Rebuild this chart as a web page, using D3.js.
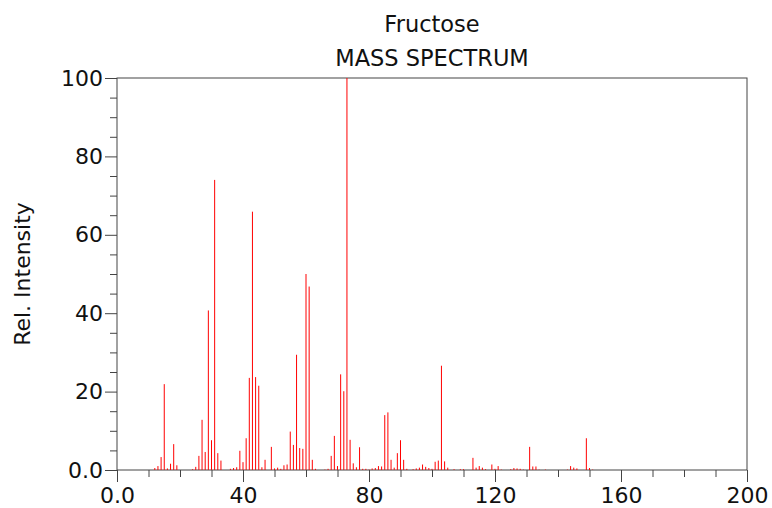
<!DOCTYPE html>
<html>
<head>
<meta charset="utf-8">
<script src="https://cdn.jsdelivr.net/npm/d3@7"></script>
<style>
  html, body { margin: 0; padding: 0; background: #fff; }
  svg { display: block; }
  text { font-family: "DejaVu Sans", sans-serif; fill: #111; }
</style>
</head>
<body>
<svg id="chart" width="772" height="508"></svg>
<script>
// Fructose electron-ionization mass spectrum (m/z vs relative intensity)
const title = "Fructose";
const subtitle = "MASS SPECTRUM";
const yTitle = "Rel. Intensity";

const mz = [
  12, 13, 14, 15, 16, 17, 18, 19, 24, 25, 26, 27, 28, 29, 30, 31, 32, 33,
  36, 37, 38, 39, 40, 41, 42, 43, 44, 45, 46, 47, 49, 50, 51, 52, 53, 54,
  55, 56, 57, 58, 59, 60, 61, 62, 63, 66, 67, 68, 69, 70, 71, 72, 73, 74,
  75, 76, 77, 78, 79, 80, 81, 82, 83, 84, 85, 86, 87, 88, 89, 90, 91, 92,
  94, 95, 96, 97, 98, 99, 100, 101, 102, 103, 104, 105, 107, 109, 110, 113,
  114, 115, 116, 117, 119, 120, 121, 122, 125, 126, 127, 128, 129, 131, 132,
  133, 134, 136, 143, 144, 145, 146, 149, 150, 151
];
const intensity = [
  0.5, 1.0, 3.3, 21.9, 0.4, 1.6, 6.6, 1.2, 0.2, 0.8, 3.6, 12.8, 4.6, 40.7, 7.6, 74.0, 4.3, 2.4,
  0.3, 0.5, 0.7, 4.9, 2.0, 8.1, 23.5, 65.9, 23.7, 21.5, 0.7, 2.6, 5.9, 0.4, 0.6, 0.3, 1.2, 1.4,
  9.8, 6.4, 29.4, 5.6, 5.4, 50.0, 46.8, 2.6, 0.3, 0.1, 0.3, 3.6, 8.7, 1.0, 24.4, 20.1, 100, 7.7,
  1.7, 0.7, 5.8, 0.3, 0.3, 0.1, 0.4, 0.5, 1.0, 0.9, 14.0, 14.7, 2.6, 0.6, 4.3, 7.6, 2.6, 0.3,
  0.2, 0.4, 0.6, 1.4, 0.8, 0.5, 0.3, 2.1, 2.4, 26.6, 2.2, 0.6, 0.2, 0.2, 0.2, 3.1,
  0.6, 1.0, 0.6, 0.2, 1.4, 0.3, 1.0, 0.1, 0.2, 0.5, 0.4, 0.3, 0.1, 5.9, 0.9,
  0.9, 0.1, 0.1, 0.1, 1.0, 0.6, 0.4, 8.1, 0.5, 0.1
];

const xTickValues = [0, 40, 80, 120, 160, 200];
const xTickLabels = ["0.0", "40", "80", "120", "160", "200"];
const yTickValues = [0, 20, 40, 60, 80, 100];
const yTickLabels = ["0.0", "20", "40", "60", "80", "100"];

const peaks = mz.map((m, i) => ({ m, v: intensity[i] }));

const svg = d3.select("#chart");
const frame = { left: 117, right: 747, top: 78, bottom: 470 };

const x = d3.scaleLinear().domain([0, 200]).range([frame.left, frame.right]);
const y = d3.scaleLinear().domain([0, 100]).range([frame.bottom, frame.top]);

const axisColor = "#444";

// minor ticks (drawn first, majors on top)
const xMinor = d3.range(0, 201, 10).filter(v => !xTickValues.includes(v));
const yMinor = d3.range(0, 101, 5).filter(v => !yTickValues.includes(v));

// x axis: major ticks with labels, minor ticks every 10
const xAxis = d3.axisBottom(x)
  .tickValues(xTickValues)
  .tickFormat((d, i) => xTickLabels[i])
  .tickSize(12)
  .tickPadding(5);
const gx = svg.append("g")
  .attr("transform", `translate(0,${frame.bottom})`)
  .call(xAxis);
gx.select(".domain").remove();
gx.selectAll(".tick line").attr("stroke", axisColor);
gx.selectAll(".tick text")
  .attr("font-size", 22)
  .attr("font-family", "DejaVu Sans, sans-serif")
  .attr("fill", "#111");

const gxm = svg.append("g")
  .attr("transform", `translate(0,${frame.bottom})`)
  .call(d3.axisBottom(x).tickValues(xMinor).tickSize(7).tickFormat(""));
gxm.select(".domain").remove();
gxm.selectAll(".tick line").attr("stroke", axisColor);

// y axis: major ticks with labels, minor ticks every 5
const yAxis = d3.axisLeft(y)
  .tickValues(yTickValues)
  .tickFormat((d, i) => yTickLabels[i])
  .tickSize(12)
  .tickPadding(2);
const gy = svg.append("g")
  .attr("transform", `translate(${frame.left},0)`)
  .call(yAxis);
gy.select(".domain").remove();
gy.selectAll(".tick line").attr("stroke", axisColor);
gy.selectAll(".tick text")
  .attr("font-size", 22)
  .attr("font-family", "DejaVu Sans, sans-serif")
  .attr("fill", "#111");

const gym = svg.append("g")
  .attr("transform", `translate(${frame.left},0)`)
  .call(d3.axisLeft(y).tickValues(yMinor).tickSize(7).tickFormat(""));
gym.select(".domain").remove();
gym.selectAll(".tick line").attr("stroke", axisColor);

// plot frame
svg.append("rect")
  .attr("x", x(0))
  .attr("y", y(100))
  .attr("width", x(200) - x(0))
  .attr("height", y(0) - y(100))
  .attr("fill", "none")
  .attr("stroke", axisColor)
  .attr("stroke-width", 1);

// spectrum sticks
svg.append("g")
  .selectAll("line")
  .data(peaks)
  .join("line")
  .attr("x1", d => x(d.m))
  .attr("x2", d => x(d.m))
  .attr("y1", y(0))
  .attr("y2", d => y(d.v))
  .attr("stroke", "#ff0000")
  .attr("stroke-width", 1);

// titles, centred over the plot frame
const cx = (frame.left + frame.right) / 2;
svg.append("text")
  .attr("x", cx).attr("y", 32)
  .attr("text-anchor", "middle")
  .attr("font-size", 22.5)
  .text(title);
svg.append("text")
  .attr("x", cx).attr("y", 66)
  .attr("text-anchor", "middle")
  .attr("font-size", 22.5)
  .text(subtitle);

svg.append("text")
  .attr("transform", `translate(30,${(frame.top + frame.bottom) / 2}) rotate(-90)`)
  .attr("text-anchor", "middle")
  .attr("font-size", 22)
  .text(yTitle);
</script>
</body>
</html>
